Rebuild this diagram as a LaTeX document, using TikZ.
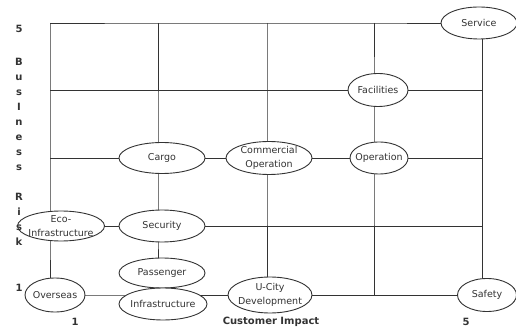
\documentclass[tikz,border=0pt]{standalone}
\usepackage{fontspec}
\setmainfont{DejaVu Sans}
\usetikzlibrary{shapes.geometric,backgrounds}
\definecolor{ink}{HTML}{333333}
\begin{document}
\begin{tikzpicture}[x=1pt,y=-1pt,
  ell/.style 2 args={ellipse, draw=ink, fill=white, line width=0.9pt, inner sep=0pt, minimum width=#1, minimum height=#2},
  lbl/.style={font=\fontsize{9.5}{14}\selectfont, text=ink, align=center, inner sep=0pt},
  conn/.style={draw=ink, line width=0.9pt},
  axis/.style={font=\fontsize{10}{15}\selectfont\bfseries, text=ink, inner sep=0pt, align=center}]
\useasboundingbox (0,0) rectangle (516,328);

% grid coordinates
\coordinate (tl) at (50,23);
\coordinate (t2) at (158,23);
\coordinate (t3) at (267,23);
\coordinate (t4) at (374,23);
\coordinate (t5) at (482,23);
\coordinate (l4) at (50,90);
\coordinate (l3) at (50,158);

% ellipse nodes
\node[ell={76pt}{32pt}, label={[lbl]center:Service}] (service) at (479,23) {};
\node[ell={60pt}{33pt}, label={[lbl]center:Facilities}] (facilities) at (378,90) {};
\node[ell={86pt}{31pt}, label={[lbl]center:Cargo}] (cargo) at (162,158) {};
\node[ell={86pt}{33pt}, label={[lbl]center:Commercial\\Operation}] (comm) at (269,158) {};
\node[ell={58pt}{32pt}, label={[lbl]center:Operation}] (operation) at (379,158) {};
\node[ell={87pt}{30pt}, label={[lbl]center:Eco-\\Infrastructure}] (eco) at (61,226) {};
\node[ell={86pt}{32pt}, label={[lbl]center:Security}] (security) at (162,226) {};
\node[ell={86pt}{30pt}, label={[lbl]center:Passenger}] (passenger) at (162,273) {};
\node[ell={88pt}{32pt}, label={[lbl]center:Infrastructure}] (infra) at (163,304) {};
\node[ell={60pt}{34pt}, label={[lbl]center:Overseas}] (overseas) at (55,295) {};
\node[ell={84pt}{36pt}, label={[lbl]center:U-City\\Development}] (ucity) at (270,295) {};
\node[ell={59pt}{33pt}, label={[lbl]center:Safety}] (safety) at (487,295) {};

% connectors (behind the white ellipses)
\begin{scope}[on background layer]
\draw[conn] (tl) -- (t2) -- (t3) -- (t4) -- (service);
\draw[conn] (tl) -- (tl |- eco) -- (tl |- overseas);
\draw[conn] (t2) -- (t2 |- cargo) -- (t2 |- security) -- (t2 |- passenger);
\draw[conn] (t3) -- (t3 |- comm) -- (t3 |- ucity);
\draw[conn] (t4) -- (t4 |- facilities) -- (t4 |- operation) -- (t4 |- overseas);
\draw[conn] (t5 |- service) -- (t5 |- safety);
\draw[conn] (l4) -- (facilities) -- (l4 -| t5);
\draw[conn] (l3) -- (cargo) -- (comm) -- (operation) -- (l3 -| t5);
\draw[conn] (eco) -- (security) -- (eco -| t5);
\draw[conn] (overseas) -- (overseas -| infra) -- (ucity) -- (safety);
\end{scope}

% axes
\node[axis] (y5) at (19,29) {5};
\node[axis, anchor=north] (yaxis) at (19,58) {B\\u\\s\\I\\n\\e\\s\\s\\[15pt]R\\i\\s\\k};
\node[axis] (y1) at (19,288) {1};
\node[axis] (x1) at (75,322) {1};
\node[axis] (xaxis) at (271,322) {Customer Impact};
\node[axis] (x5) at (466,322) {5};
\end{tikzpicture}
\end{document}
